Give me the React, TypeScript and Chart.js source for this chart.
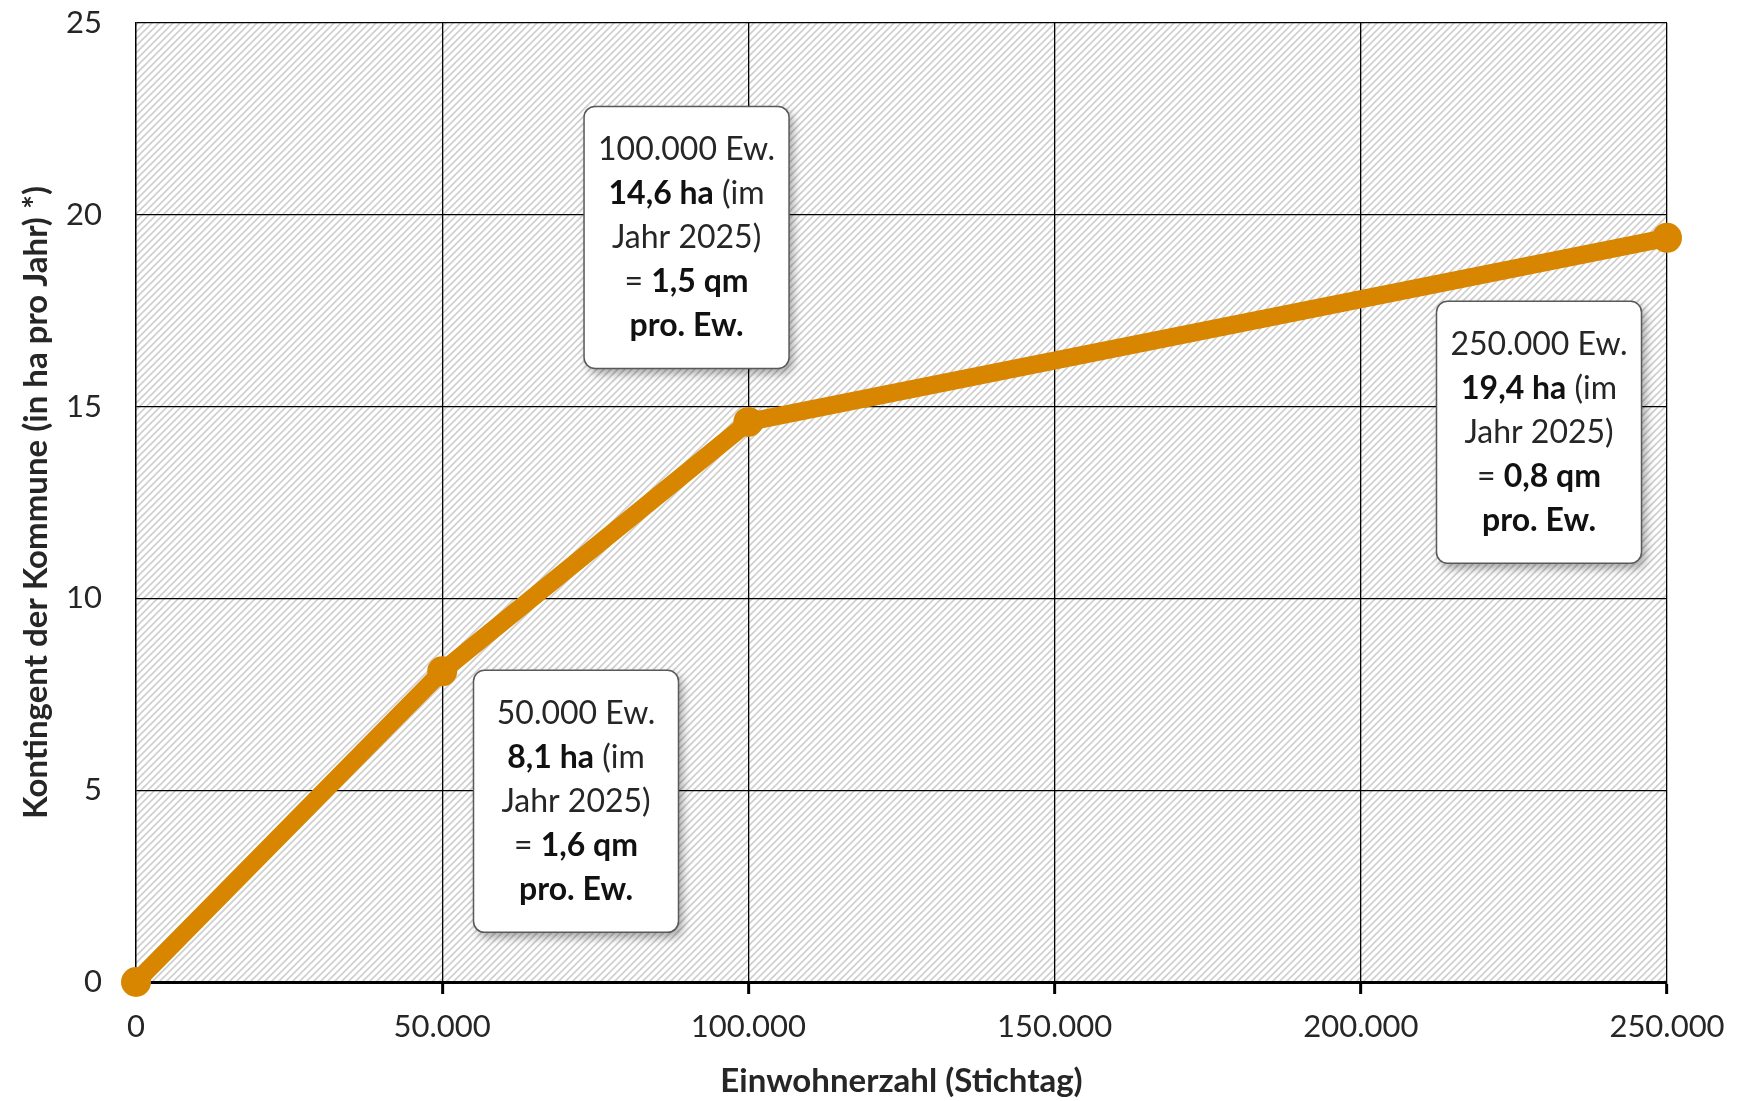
import React, { useEffect, useRef } from 'react';
import { Chart, registerables } from 'chart.js';

Chart.register(...registerables);

// ---- data ----
const einwohner = [0, 50000, 100000, 250000];
const kontingentHa = [0, 8.1, 14.6, 19.4];
const xTickValues = [0, 50000, 100000, 150000, 200000, 250000];
const yTickValues = [0, 5, 10, 15, 20, 25];
const stichjahr = '2025';

// callout boxes: which point, and where the box centre sits (in axis units)
const CALLOUTS = [
  { idx: 1, cx: 71850, cy: 4.71 },
  { idx: 2, cx: 89900, cy: 19.41 },
  { idx: 3, cx: 229100, cy: 14.33 },
];

const ORANGE = '#D88600';
const TEXT = '#262626';
const FONT = 'Lato';

const fmtInt = (n: number) => String(Math.round(n)).replace(/\B(?=(\d{3})+(?!\d))/g, '.');
const fmtDec = (n: number) => n.toFixed(1).replace('.', ',');

const hatchPlugin = {
  id: 'hatch',
  beforeDraw(chart: any) {
    const { ctx, chartArea: a } = chart;
    const s = 7;
    const c = document.createElement('canvas');
    c.width = s;
    c.height = s;
    const g = c.getContext('2d')!;
    g.fillStyle = '#fff';
    g.fillRect(0, 0, s, s);
    g.strokeStyle = '#d0d0d0';
    g.lineWidth = 1.7;
    g.beginPath();
    g.moveTo(-1, s + 1); g.lineTo(s + 1, -1);
    g.moveTo(-s / 2 - 1, s / 2 + 1); g.lineTo(s / 2 + 1, -s / 2 - 1);
    g.moveTo(s / 2 - 1, s * 1.5 + 1); g.lineTo(s * 1.5 + 1, s / 2 - 1);
    g.stroke();
    ctx.save();
    ctx.fillStyle = ctx.createPattern(c, 'repeat');
    ctx.fillRect(a.left, a.top, a.right - a.left, a.bottom - a.top);
    ctx.restore();
  },
};

const calloutPlugin = {
  id: 'callouts',
  afterDatasetsDraw(chart: any) {
    const { ctx, scales } = chart;
    const w = 205, h = 262, lh = 44;
    const reg = `32px ${FONT}`, bold = `bold 32px ${FONT}`;
    CALLOUTS.forEach(({ idx, cx, cy }) => {
      const ew = einwohner[idx];
      const ha = kontingentHa[idx];
      const qm = (ha * 10000) / ew;
      const px = scales.x.getPixelForValue(cx);
      const py = scales.y.getPixelForValue(cy);
      ctx.save();
      ctx.shadowColor = 'rgba(0,0,0,0.35)';
      ctx.shadowBlur = 10;
      ctx.shadowOffsetX = 4;
      ctx.shadowOffsetY = 5;
      ctx.fillStyle = '#fff';
      ctx.beginPath();
      ctx.roundRect(px - w / 2, py - h / 2, w, h, 11);
      ctx.fill();
      ctx.shadowColor = 'transparent';
      ctx.strokeStyle = '#595959';
      ctx.lineWidth = 1.5;
      ctx.stroke();

      const lines = [
        [{ t: `${fmtInt(ew)} Ew.`, b: false }],
        [{ t: `${fmtDec(ha)} ha`, b: true }, { t: ' (im', b: false }],
        [{ t: `Jahr ${stichjahr})`, b: false }],
        [{ t: '= ', b: false }, { t: `${fmtDec(qm)} qm`, b: true }],
        [{ t: 'pro. Ew.', b: true }],
      ];
      ctx.textBaseline = 'middle';
      ctx.textAlign = 'left';
      lines.forEach((segs, i) => {
        const widths = segs.map((s) => {
          ctx.font = s.b ? bold : reg;
          return ctx.measureText(s.t).width;
        });
        let x = px - widths.reduce((p, c) => p + c, 0) / 2;
        const y = py + (i - 2) * lh;
        segs.forEach((s, j) => {
          ctx.font = s.b ? bold : reg;
          ctx.fillStyle = s.b ? '#111' : TEXT;
          ctx.fillText(s.t, x, y);
          x += widths[j];
        });
      });
      ctx.restore();
    });
  },
};

export default function App() {
  const canvasRef = useRef<HTMLCanvasElement>(null);
  const chartRef = useRef<Chart | null>(null);

  useEffect(() => {
    if (!canvasRef.current) return;
    chartRef.current = new Chart(canvasRef.current, {
      type: 'line',
      data: {
        datasets: [
          {
            label: 'Kontingent',
            data: einwohner.map((x, i) => ({ x, y: kontingentHa[i] })),
            borderColor: ORANGE,
            backgroundColor: ORANGE,
            borderWidth: 18,
            pointRadius: 15,
            pointBorderWidth: 0,
            pointBackgroundColor: ORANGE,
            borderJoinStyle: 'round',
            borderCapStyle: 'round',
            tension: 0,
            clip: false,
          },
        ],
      },
      options: {
        animation: false,
        responsive: true,
        maintainAspectRatio: false,
        layout: { padding: { left: 0, right: 82, top: 23, bottom: 0 } },
        plugins: { legend: { display: false }, tooltip: { enabled: false } },
        scales: {
          x: {
            type: 'linear',
            min: 0,
            max: 250000,
            afterBuildTicks: (s: any) => { s.ticks = xTickValues.map((value) => ({ value })); },
            afterFit: (s: any) => { s.height = 119; },
            grid: { color: '#000', lineWidth: 1.3, drawTicks: true, tickLength: 12, tickColor: '#000', tickWidth: 3 },
            border: { color: '#000', width: 3 },
            ticks: {
              color: TEXT,
              padding: 14,
              maxRotation: 0,
              font: { family: FONT, size: 31 },
              callback: (v: any) => fmtInt(Number(v)),
            },
            title: {
              display: true,
              text: 'Einwohnerzahl (Stichtag)',
              color: TEXT,
              font: { family: FONT, size: 33, weight: 'bold' },
              padding: { top: 0, bottom: 0 },
            },
          },
          y: {
            min: 0,
            max: 25,
            afterBuildTicks: (s: any) => { s.ticks = yTickValues.map((value) => ({ value })); },
            afterFit: (s: any) => {
              s.width = 136;
              s.paddingTop = 0;
              s.paddingBottom = 0;
            },
            grid: { color: '#000', lineWidth: 1.3, drawTicks: false },
            border: { color: '#000', width: 1.3 },
            ticks: { color: TEXT, padding: 34, font: { family: FONT, size: 31 } },
            title: {
              display: true,
              text: 'Kontingent der Kommune (in ha pro Jahr) *)',
              color: TEXT,
              font: { family: FONT, size: 33, weight: 'bold' },
              padding: { top: 17, bottom: 0 },
            },
          },
        },
      } as any,
      plugins: [hatchPlugin, calloutPlugin],
    });
    return () => chartRef.current?.destroy();
  }, []);

  return (
    <div style={{ position: 'fixed', left: 0, top: 0, width: 1749, height: 1101, background: '#fff' }}>
      <canvas ref={canvasRef} aria-label="Kontingent der Kommune nach Einwohnerzahl" role="img" />
    </div>
  );
}
